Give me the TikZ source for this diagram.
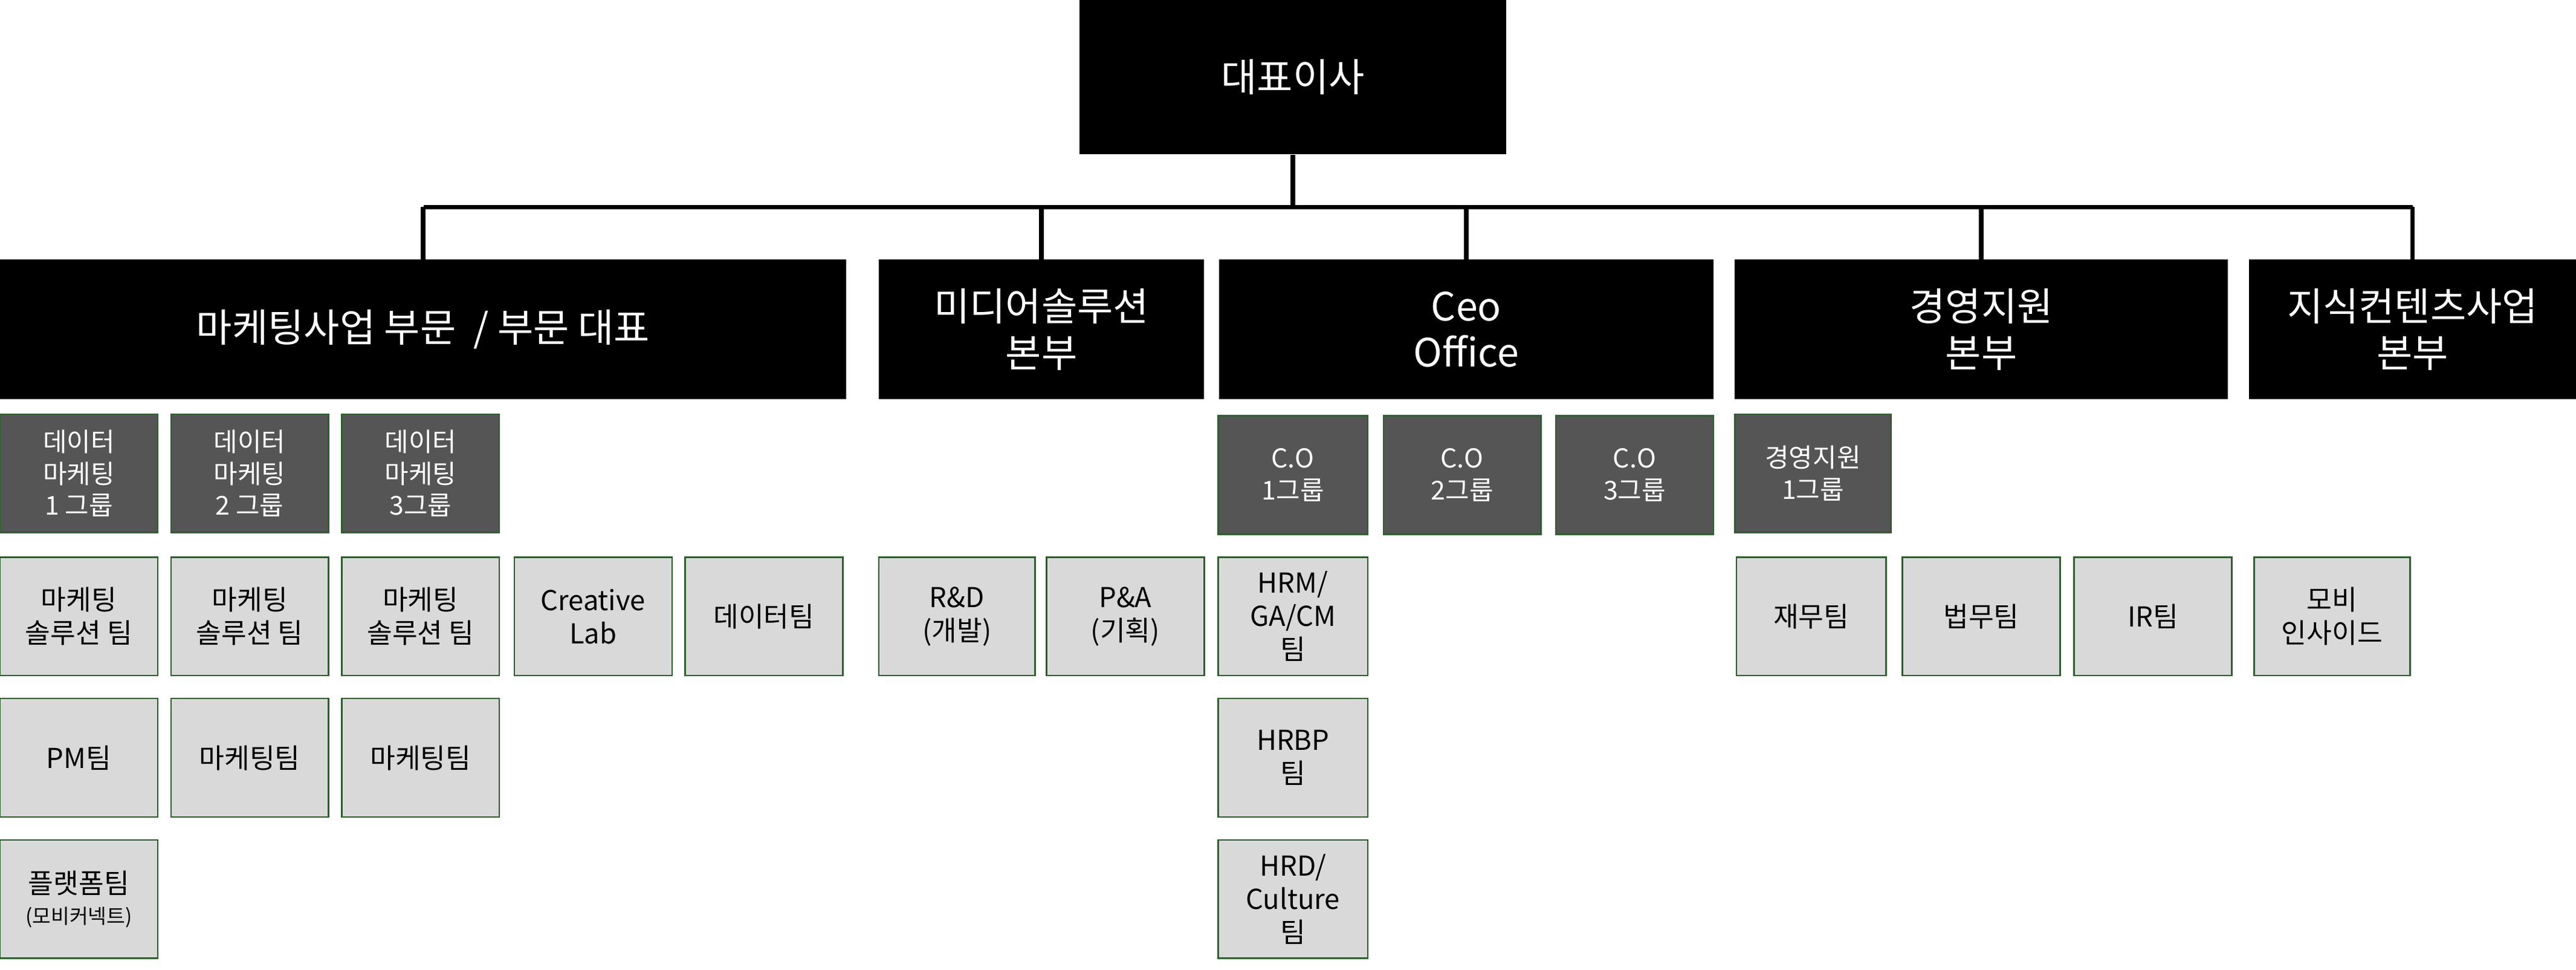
\documentclass[tikz,border=0pt]{standalone}
\usepackage{fontspec}
\setmainfont{Noto Sans CJK KR}
\definecolor{darkbox}{HTML}{555555}
\definecolor{lightbox}{HTML}{D9D9D9}
\definecolor{boxline}{HTML}{2E5E2E}
\tikzset{
  head/.style={fill=black,text=white,align=center,font=\fontsize{13.5}{16}\selectfont,inner sep=0pt},
  grp/.style={fill=darkbox,draw=boxline,line width=0.5pt,text=white,align=center,font=\fontsize{9}{11}\selectfont,minimum width=1.92cm,minimum height=1.44cm,inner sep=0pt},
  team/.style={fill=lightbox,draw=boxline,line width=0.5pt,text=black,align=center,font=\fontsize{9.5}{11.5}\selectfont,minimum width=1.92cm,minimum height=1.44cm,inner sep=0pt},
  link/.style={line width=1.6pt}
}
\begin{document}
\begin{tikzpicture}[x=0.02cm,y=-0.02cm]
    \useasboundingbox (0,0) rectangle (1568,590);
    % top
    \node[head,minimum width=5.2cm,minimum height=1.88cm] (ceo) at (787,47) {대표이사};
    % divisions
    \node[head,minimum width=10.3cm,minimum height=1.7cm] (mkt) at (257.5,200.5) {마케팅사업 부문 \ / 부문 대표};
    \node[head,minimum width=3.96cm,minimum height=1.7cm] (media) at (634,200.5) {미디어솔루션\\본부};
    \node[head,minimum width=6.02cm,minimum height=1.7cm] (office) at (892.5,200.5) {Ceo\\Office};
    \node[head,minimum width=6.0cm,minimum height=1.7cm] (mgmt) at (1206,200.5) {경영지원\\본부};
    \node[head,minimum width=3.98cm,minimum height=1.7cm] (know) at (1468.5,200.5) {지식컨텐츠사업\\본부};
    \coordinate (busL) at (258,126);
    \coordinate (busR) at (1468.5,126);
    \draw[link] (ceo.south) -- (ceo.south |- busL);
    \draw[link] (busL) -- (busR);
    \foreach \n in {mkt,media,office,mgmt,know}
        \draw[link] (\n.north) -- (\n.north |- busL);
    % groups
    \node[grp] (g1) at (48,288) {데이터\\마케팅\\1 그룹};
    \node[grp] (g2) at (152,288) {데이터\\마케팅\\2 그룹};
    \node[grp] (g3) at (256,288) {데이터\\마케팅\\3그룹};
    \node[grp,minimum width=1.82cm] (co1) at (787,289) {C.O\\1그룹};
    \node[grp] (co2) at (890,289) {C.O\\2그룹};
    \node[grp] (co3) at (995,289) {C.O\\3그룹};
    \node[grp,minimum width=1.9cm] (mg1) at (1103.5,288) {경영지원\\1그룹};
    % teams
    \node[team] (sol1) at (48,375) {마케팅\\솔루션 팀};
    \node[team] (sol2) at (152,375) {마케팅\\솔루션 팀};
    \node[team] (sol3) at (256,375) {마케팅\\솔루션 팀};
    \node[team] (lab) at (361,375) {Creative\\Lab};
    \node[team] (data) at (465,375) {데이터팀};
    \node[team,minimum width=1.9cm] (rnd) at (582.5,375) {R\&D\\(개발)};
    \node[team] (pna) at (685,375) {P\&A\\(기획)};
    \node[team,minimum width=1.82cm] (hrm) at (787,375) {HRM/\\GA/CM\\팀};
    \node[team,minimum width=1.82cm] (fin) at (1102.5,375) {재무팀};
    \node[team] (law) at (1206,375) {법무팀};
    \node[team] (ir) at (1310.5,375) {IR팀};
    \node[team,minimum width=1.9cm] (mobi) at (1419.5,375) {모비\\인사이드};
    \node[team] (pm) at (48,461) {PM팀};
    \node[team] (mk2) at (152,461) {마케팅팀};
    \node[team] (mk3) at (256,461) {마케팅팀};
    \node[team,minimum width=1.82cm] (hrbp) at (787,461) {HRBP\\팀};
    \node[team] (plat) at (48,547) {플랫폼팀\\[-1pt]{\fontsize{7}{8}\selectfont (모비커넥트)}};
    \node[team,minimum width=1.82cm] (hrd) at (787,547) {HRD/\\Culture\\팀};
\end{tikzpicture}
\end{document}
